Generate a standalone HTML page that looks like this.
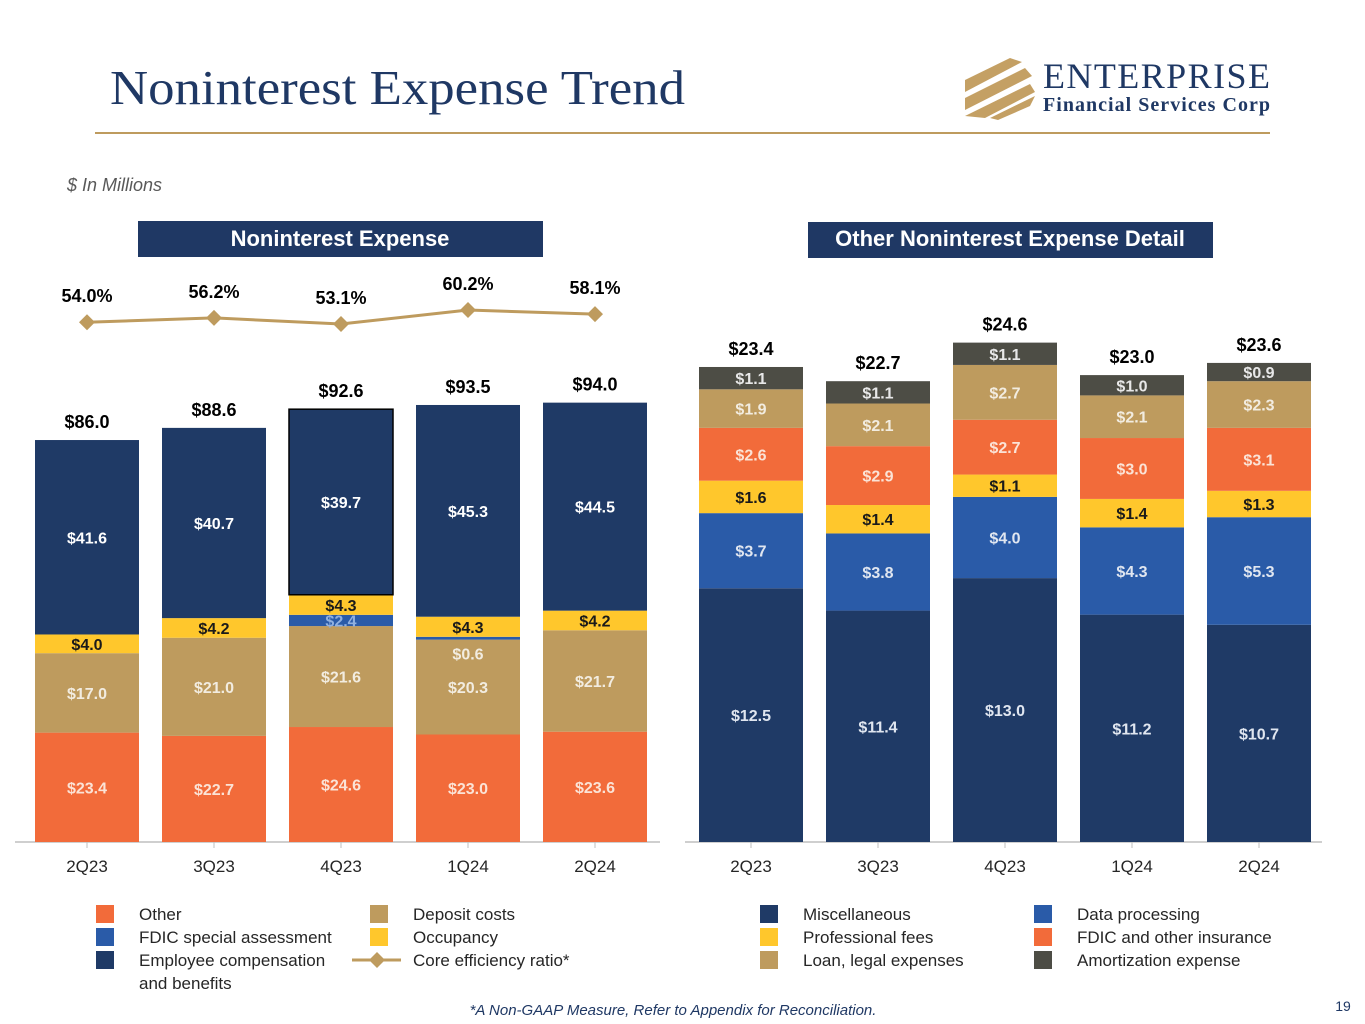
<!DOCTYPE html>
<html><head><meta charset="utf-8"><style>
body{margin:0;background:#fff;}
svg{display:block;font-family:"Liberation Sans",sans-serif;}
</style></head><body>
<svg id="s" width="1365" height="1024" viewBox="0 0 1365 1024" xmlns="http://www.w3.org/2000/svg">
<text x="110" y="104" font-family="Liberation Serif,serif" font-size="49" fill="#1F3864" textLength="575" lengthAdjust="spacingAndGlyphs">Noninterest Expense Trend</text>
<line x1="95" y1="133" x2="1270" y2="133" stroke="#BE9B5E" stroke-width="2"/>
<g fill="#C4A064">
<polygon points="965,80 1010,58 1022,62 965,92"/>
<polygon points="965,98 1025,68 1032,76 965,110"/>
<polygon points="965,116 1030,84 1035,92 985,118"/>
<polygon points="990,118 1035,96 1030,106 998,120"/>
</g>
<text x="1043" y="88" font-family="Liberation Serif,serif" font-size="36" fill="#1F3864" textLength="227">ENTERPRISE</text>
<text x="1043" y="111" font-family="Liberation Serif,serif" font-weight="bold" font-size="20" fill="#1F3864" textLength="227">Financial Services Corp</text>
<text x="67" y="191" font-style="italic" font-size="18" fill="#595959">$ In Millions</text>
<rect x="138" y="221" width="405" height="36" fill="#1F3864"/>
<text x="340" y="246" text-anchor="middle" font-weight="bold" font-size="22" fill="#fff">Noninterest Expense</text>
<rect x="808" y="222" width="405" height="36" fill="#1F3864"/>
<text x="1010" y="246" text-anchor="middle" font-weight="bold" font-size="22" fill="#fff">Other Noninterest Expense Detail</text>
<g id="left"></g>
<g id="right"></g>
<g id="legend"></g>
<text x="673" y="1015" text-anchor="middle" font-style="italic" font-size="15" fill="#1F3864">*A Non-GAAP Measure, Refer to Appendix for Reconciliation.</text>
<text x="1343" y="1011" text-anchor="middle" font-size="14" fill="#1F3864">19</text>
</svg>
<script>
const categories=["2Q23","3Q23","4Q23","1Q24","2Q24"];
const otherVals=[23.4,22.7,24.6,23.0,23.6];
const depositVals=[17.0,21.0,21.6,20.3,21.7];
const fdicSpecialVals=[0,0,2.4,0.6,0];
const occupancyVals=[4.0,4.2,4.3,4.3,4.2];
const employeeVals=[41.6,40.7,39.7,45.3,44.5];
const totalVals=[86.0,88.6,92.6,93.5,94.0];
const efficiencyVals=[54.0,56.2,53.1,60.2,58.1];
const miscVals=[12.5,11.4,13.0,11.2,10.7];
const dataProcVals=[3.7,3.8,4.0,4.3,5.3];
const profFeeVals=[1.6,1.4,1.1,1.4,1.3];
const fdicInsVals=[2.6,2.9,2.7,3.0,3.1];
const loanLegalVals=[1.9,2.1,2.7,2.1,2.3];
const amortVals=[1.1,1.1,1.1,1.0,0.9];
const detailTotals=[23.4,22.7,24.6,23.0,23.6];

const NS="http://www.w3.org/2000/svg";
function mk(p,t,a,txt){const e=document.createElementNS(NS,t);for(const k in a)e.setAttribute(k,a[k]);if(txt!==undefined)e.textContent=txt;p.appendChild(e);return e;}
const C={navy:"#1F3A66",blue:"#2A5BA8",yellow:"#FFC72C",orange:"#F26B3A",tan:"#BE9B5E",gray:"#4D4D45"};
const base=842;

function drawChart(g,x0,pitch,scale,series,totals,axisX1,axisX2,prefix){
  const xs=i=>x0+i*pitch, bw=104, ys=v=>v*scale;
  const ax=mk(g,"line",{x1:axisX1,y1:base,x2:axisX2,y2:base,stroke:"#BFBFBF","stroke-width":1.5});
  
  
  categories.forEach((c,i)=>{
    let y=base;
    series.forEach(s=>{
      const v=s.vals[i]; if(!v)return;
      const h=ys(v);
      const r=mk(g,"rect",{x:xs(i),y:y-h,width:bw,height:h,fill:s.color});
      if(s.outline&&s.outline(i)){r.setAttribute("stroke","#000");r.setAttribute("stroke-width","1.5");}
      
      
      let ly=y-h/2+6, fill=s.text;
      if(h<6){ly=y+20;fill="#F2ECE0";}
      const t=mk(g,"text",{x:xs(i)+bw/2,y:ly,"text-anchor":"middle","font-weight":"bold","font-size":16,fill:fill},"$"+v.toFixed(1));
      
      
      y-=h;
    });
    const tt=mk(g,"text",{x:xs(i)+bw/2,y:base-ys(totals[i])-12,"text-anchor":"middle","font-weight":"bold","font-size":18,fill:"#000"},"$"+totals[i].toFixed(1));
    
    
    const tk=mk(g,"line",{x1:xs(i)+bw/2,y1:base,x2:xs(i)+bw/2,y2:base+6,stroke:"#BFBFBF"});
    
    
    const cl=mk(g,"text",{x:xs(i)+bw/2,y:872,"text-anchor":"middle","font-size":17,fill:"#262626"},c);
    
    
  });
  return xs;
}
const L=document.getElementById("left");
const xsL=drawChart(L,35,127,4.674,[
 {key:"other",vals:otherVals,color:C.orange,text:"#FBE3D6"},
 {key:"deposit",vals:depositVals,color:C.tan,text:"#F2ECE0"},
 {key:"fdic-special",vals:fdicSpecialVals,color:C.blue,text:"#8FB0E0"},
 {key:"occupancy",vals:occupancyVals,color:C.yellow,text:"#1a1a1a"},
 {key:"employee",vals:employeeVals,color:C.navy,text:"#fff",outline:i=>i===2}
],totalVals,15,660,"left");
const ey=v=>324-(v-53.1)*1.97;
const pts=efficiencyVals.map((v,i)=>(xsL(i)+52)+","+ey(v)).join(" ");
const pl=mk(L,"polyline",{points:pts,fill:"none",stroke:"#BE9B5E","stroke-width":3});


efficiencyVals.forEach((v,i)=>{
  const cx=xsL(i)+52,cy=ey(v);
  const d=mk(L,"polygon",{points:`${cx},${cy-8} ${cx+8},${cy} ${cx},${cy+8} ${cx-8},${cy}`,fill:"#BE9B5E"});
  
  
  const t=mk(L,"text",{x:cx,y:cy-20,"text-anchor":"middle","font-weight":"bold","font-size":18,fill:"#000"},v.toFixed(1)+"%");
  
  
});
const R=document.getElementById("right");
drawChart(R,699,127,20.3,[
 {key:"misc",vals:miscVals,color:C.navy,text:"#E0E6F0"},
 {key:"data-processing",vals:dataProcVals,color:C.blue,text:"#E0E6F0"},
 {key:"professional-fees",vals:profFeeVals,color:C.yellow,text:"#1a1a1a"},
 {key:"fdic-insurance",vals:fdicInsVals,color:C.orange,text:"#FBE3D6"},
 {key:"loan-legal",vals:loanLegalVals,color:C.tan,text:"#F2ECE0"},
 {key:"amortization",vals:amortVals,color:C.gray,text:"#E8E8E8"}
],detailTotals,685,1322,"right");

const G=document.getElementById("legend");
const legendItems=[
 [96,914,C.orange,"Other"],[96,937,C.blue,"FDIC special assessment"],[96,960,C.navy,"Employee compensation"],
 [370,914,C.tan,"Deposit costs"],[370,937,C.yellow,"Occupancy"],
 [760,914,C.navy,"Miscellaneous"],[760,937,C.yellow,"Professional fees"],[760,960,C.tan,"Loan, legal expenses"],
 [1034,914,C.blue,"Data processing"],[1034,937,C.orange,"FDIC and other insurance"],[1034,960,C.gray,"Amortization expense"]
];
legendItems.forEach(([x,y,col,lab])=>{
  const r=mk(G,"rect",{x:x,y:y-9,width:18,height:18,fill:col});
  
  
  const t=mk(G,"text",{x:x+43,y:y+6,"font-size":17,fill:"#262626"},lab);
  
  
});
const t2=mk(G,"text",{x:139,y:989,"font-size":17,fill:"#262626"},"and benefits");


const ll=mk(G,"line",{x1:352,y1:960,x2:401,y2:960,stroke:"#BE9B5E","stroke-width":3});


const ld=mk(G,"polygon",{points:"377,952 385,960 377,968 369,960",fill:"#BE9B5E"});


const lt=mk(G,"text",{x:413,y:966,"font-size":17,fill:"#262626"},"Core efficiency ratio*");


</script>
</body></html>
